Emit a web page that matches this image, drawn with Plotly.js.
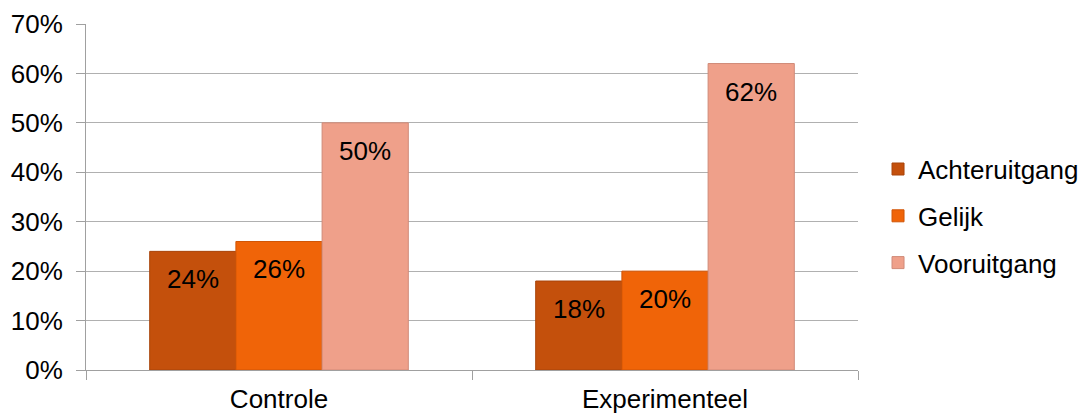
<!DOCTYPE html>
<html><head><meta charset="utf-8">
<script src="https://cdn.plot.ly/plotly-3.0.1.min.js"></script>
<style>html,body{margin:0;padding:0;background:#fff}#c{width:1086px;height:414px}</style>
</head><body><div id="c"></div>
<script>
const categories = ["Controle", "Experimenteel"];
const seriesNames = ["Achteruitgang", "Gelijk", "Vooruitgang"];
const achteruitgang = [24, 18];
const gelijk = [26, 20];
const vooruitgang = [50, 62];
const yTicks = [0, 10, 20, 30, 40, 50, 60, 70];
const yTickLabels = ["0%", "10%", "20%", "30%", "40%", "50%", "60%", "70%"];

const values = [achteruitgang, gelijk, vooruitgang];
const colors = ["#C4500C", "#F06408", "#EFA08A"];
const lineColors = ["#A8440A", "#D05506", "#D08A78"];
const font = "Liberation Sans, Arial, sans-serif";

const traces = values.map((v, i) => ({
  type: "bar", name: seriesNames[i], x: categories, y: v,
  legendgroup: "g" + i,
  marker: {color: colors[i], line: {color: lineColors[i], width: 1}},
  hoverinfo: "skip"
}));

const annotations = [];
values.forEach((v, i) => v.forEach((val, j) => annotations.push({
  x: categories[j], y: val, xref: "x", yref: "y",
  text: val + "%", showarrow: false,
  xshift: (i - 1) * 86, yshift: -28,
  font: {family: font, size: 26, color: "#000"}
})));

const layout = {
  width: 1086, height: 414,
  margin: {l: 86, r: 228, t: 24, b: 44},
  paper_bgcolor: "#fff", plot_bgcolor: "#fff",
  barmode: "group", bargap: 0.33, bargroupgap: 0,
  font: {family: font, size: 26, color: "#000"},
  xaxis: {
    showline: true, linecolor: "#A0A0A0", linewidth: 1,
    ticks: "outside", ticklen: 9, tickcolor: "#A0A0A0", tickson: "boundaries",
    showgrid: false, tickfont: {size: 26}, ticklabelstandoff: 6
  },
  yaxis: {
    range: [0, 70], tickvals: yTicks, ticktext: yTickLabels,
    showline: true, linecolor: "#A0A0A0", linewidth: 1,
    ticks: "outside", ticklen: 9, tickcolor: "#A0A0A0",
    showgrid: true, gridcolor: "#B0B0B0", gridwidth: 1,
    zeroline: false, tickfont: {size: 26}, ticklabelstandoff: 8
  },
  showlegend: true,
  legend: {xref: "container", yref: "container", x: 0.8085, y: 0.478,
    xanchor: "left", yanchor: "middle",
    font: {size: 26}, tracegroupgap: 10, traceorder: "grouped"},
  annotations: annotations
};
Plotly.newPlot("c", traces, layout, {staticPlot: true});
</script></body></html>
